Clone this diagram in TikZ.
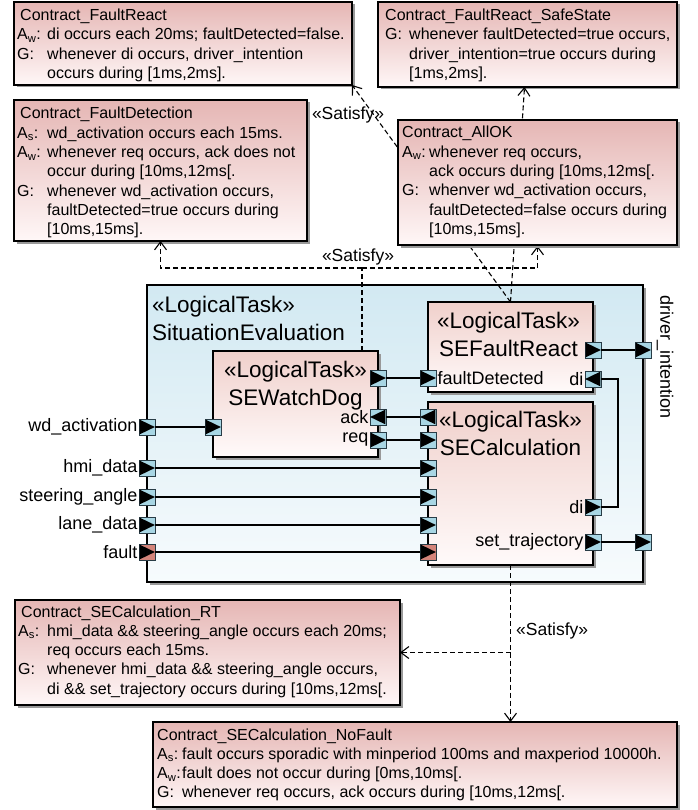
\documentclass[tikz,border=0pt]{standalone}
\usepackage{fontspec}
\setmainfont{Liberation Sans}
\usetikzlibrary{arrows.meta,shadows,calc}
\definecolor{cTop}{RGB}{229,182,180}
\definecolor{cBot}{RGB}{255,247,247}
\definecolor{tTop}{RGB}{240,208,203}
\definecolor{tBot}{RGB}{255,250,250}
\definecolor{sTop}{RGB}{210,233,242}
\definecolor{sBot}{RGB}{247,251,253}
\definecolor{portblue}{RGB}{168,214,228}
\definecolor{portred}{RGB}{212,132,122}
\definecolor{portedge}{RGB}{40,60,70}
\newcommand{\cpre}[2][30pt]{\makebox[#1][l]{#2}}
\newcommand{\prR}[3][portblue]{%
  \node[port, fill=#1] (#2) at (#3) {};
  \fill ([shift={(1pt,-1pt)}]#2.north west) -- ([xshift=-0.5pt]#2.east) -- ([shift={(1pt,1pt)}]#2.south west) -- cycle;}
\newcommand{\prL}[2]{%
  \node[port] (#1) at (#2) {};
  \fill ([shift={(-1pt,-1pt)}]#1.north east) -- ([xshift=0.5pt]#1.west) -- ([shift={(-1pt,1pt)}]#1.south east) -- cycle;}
\tikzset{
  bx/.style={draw=black, line width=1.1pt, inner sep=0pt, outer sep=0pt, anchor=north west,
    drop shadow={shadow xshift=2.5pt, shadow yshift=-2.5pt, fill=black!40, opacity=1}},
  contract/.style={bx, top color=cTop, bottom color=cBot},
  task/.style={bx, top color=tTop, bottom color=tBot},
  sebox/.style={bx, top color=sTop, bottom color=sBot},
  ctext/.style={inner sep=0pt, anchor=base west, font=\fontsize{16}{19.3}\selectfont},
  ttl/.style={inner sep=0pt, align=center, font=\fontsize{22.5}{28}\selectfont},
  plabel/.style={inner sep=1pt, font=\fontsize{18}{20}\selectfont},
  slabel/.style={inner sep=0pt, font=\fontsize{17.5}{20}\selectfont},
  port/.style={draw=portedge, fill=portblue, minimum size=16pt, inner sep=0pt, line width=0.7pt},
  conn/.style={draw=black, line width=1.2pt},
  satl/.style={draw=black, line width=1.1pt, dash pattern=on 5pt off 3pt},
  sat/.style={satl, -{Straight Barb[length=8pt,width=12pt]}},
}
\begin{document}
\begin{tikzpicture}[x=1pt,y=-1pt]
\useasboundingbox (0,0) rectangle (697,810);
\fill[white] (0,0) rectangle (697,810);

% main block and inner tasks
\node[sebox, minimum width=496pt, minimum height=297pt] (se) at (147,285) {};
\node[task, minimum width=165pt, minimum height=106pt] (wd) at (213,351) {};
\node[task, minimum width=165pt, minimum height=90pt] (frx) at (428,302) {};
\node[task, minimum width=165pt, minimum height=163pt] (sc) at (428,402) {};

\node[ttl, align=left, anchor=north west] (set) at (152,296) {«LogicalTask»\\SituationEvaluation};
\node[ttl, anchor=north] (wdt) at (295.5,361) {«LogicalTask»\\SEWatchDog};
\node[ttl, anchor=north] (frxt) at (508.5,312) {«LogicalTask»\\SEFaultReact};
\node[ttl, anchor=north] (sct) at (510.5,411) {«LogicalTask»\\SECalculation};

% connector turn point
\coordinate (diturn) at (618,0);

% ports
\prR{pw}{147,427}
\prR{ph}{147,468}
\prR{ps}{147,497}
\prR{pl}{147,525}
\prR[portred]{pf}{147,552}
\prR{wdin}{213,427}
\prR{wdout}{378,378}
\prL{wdack}{378,417}
\prR{wdreq}{378,440}
\prR{frin}{428,378}
\prR{frout}{593,350}
\prL{frdi}{593,379}
\prL{scack}{428,417}
\prR{screq}{428,440}
\prR{sch}{428,468}
\prR{scs}{428,497}
\prR{scl}{428,525}
\prR[portred]{scf}{428,552}
\prR{scdi}{593,507}
\prR{scst}{593,542}
\prR{sedrv}{643,350}
\prR{sest}{643,542}

% solid connections between ports
\draw[conn] (pw) -- (wdin);
\draw[conn] (ph) -- (sch);
\draw[conn] (ps) -- (scs);
\draw[conn] (pl) -- (scl);
\draw[conn] (pf) -- (scf);
\draw[conn] (wdout) -- (frin);
\draw[conn] (scack) -- (wdack);
\draw[conn] (wdreq) -- (screq);
\draw[conn] (frout) -- (sedrv);
\draw[conn] (scst) -- (sest);
\draw[conn] (scdi) -- (scdi -| diturn) |- (frdi);

% port labels
\node[plabel, anchor=east] (lwd) at (pw.west) {wd\_activation};
\node[plabel, anchor=east] (lhmi) at (ph.west) {hmi\_data};
\node[plabel, anchor=east] (lst) at (ps.west) {steering\_angle};
\node[plabel, anchor=east] (lln) at (pl.west) {lane\_data};
\node[plabel, anchor=east] (lfa) at (pf.west) {fault};
\node[plabel, anchor=east] (lack) at (wdack.west) {ack};
\node[plabel, anchor=east] (lreq) at (wdreq.west) {req};
\node[plabel, anchor=west] (lfd) at (frin.east) {faultDetected};
\node[plabel, anchor=east] (ldi1) at (frdi.west) {di};
\node[plabel, anchor=east] (ldi2) at (scdi.west) {di};
\node[plabel, anchor=east] (lset) at (scst.west) {set\_trajectory};
\node[plabel, rotate=-90] (ldrv) at (665,357) {driver\_intention};

% contract boxes
\node[contract, minimum width=338pt, minimum height=83pt] (fr) at (14,2) {};
\node[contract, minimum width=299pt, minimum height=85pt] (frs) at (378,2) {};
\node[contract, minimum width=293pt, minimum height=141pt] (fd) at (14,100) {};
\node[contract, minimum width=385pt, minimum height=105pt] (rt) at (15,600) {};
\node[contract, minimum width=524pt, minimum height=85pt] (nf) at (153,722) {};

% satisfy connectors (behind AllOK box)
\coordinate (j1) at (362,268);
\coordinate (okin) at (537.5,246);
\draw[satl] (wd.north -| j1) -- (j1);
\draw[sat] (j1) -| (fd.south);
\draw[sat] (j1) -| (okin);
\draw[sat] (frx.north) -- (fr.south east);
\draw[sat] (frx.north) -- ([xshift=-3pt]frs.south);
\coordinate (j2) at (sc.south |- rt.east);
\draw[satl] (sc.south) -- (j2);
\draw[sat] (j2) -- (j2 |- nf.north);
\draw[sat] (j2) -- (rt.east);

\node[contract, minimum width=279pt, minimum height=125pt] (ok) at (398,120) {};

% contract texts
\node[ctext] (frt) at (17,20.5) {\begin{tabular}[t]{@{}l@{}l@{}}
\multicolumn{2}{@{}l@{}}{\hspace*{3pt}Contract\_FaultReact}\\
\cpre{A\textsubscript{w}:} & di occurs each 20ms; faultDetected=false.\\
\cpre{G:} & whenever di occurs, driver\_intention\\
 & occurs during [1ms,2ms].\end{tabular}};

\node[ctext] (frst) at (385,20.5) {\begin{tabular}[t]{@{}l@{}l@{}}
\multicolumn{2}{@{}l@{}}{Contract\_FaultReact\_SafeState}\\
\cpre[24pt]{G:} & whenever faultDetected=true occurs,\\
 & driver\_intention=true occurs during\\
 & [1ms,2ms].\end{tabular}};

\node[ctext] (fdt) at (17,119) {\begin{tabular}[t]{@{}l@{}l@{}}
\multicolumn{2}{@{}l@{}}{\hspace*{3pt}Contract\_FaultDetection}\\
\cpre{A\textsubscript{s}:} & wd\_activation occurs each 15ms.\\
\cpre{A\textsubscript{w}:} & whenever req occurs, ack does not\\
 & occur during [10ms,12ms[.\\
\cpre{G:} & whenever wd\_activation occurs,\\
 & faultDetected=true occurs during\\
 & [10ms,15ms].\end{tabular}};

\node[ctext] (okt) at (402,138) {\begin{tabular}[t]{@{}l@{}l@{}}
\multicolumn{2}{@{}l@{}}{Contract\_AllOK}\\
\cpre[27pt]{A\textsubscript{w}:} & whenever req occurs,\\
 & ack occurs during [10ms,12ms[.\\
\cpre[27pt]{G:} & whenver wd\_activation occurs,\\
 & faultDetected=false occurs during\\
 & [10ms,15ms].\end{tabular}};

\node[ctext] (rtt) at (18,617) {\begin{tabular}[t]{@{}l@{}l@{}}
\multicolumn{2}{@{}l@{}}{\hspace*{3pt}Contract\_SECalculation\_RT}\\
\cpre[29pt]{A\textsubscript{s}:} & hmi\_data \&\& steering\_angle occurs each 20ms;\\
 & req occurs each 15ms.\\
\cpre[29pt]{G:} & whenever hmi\_data \&\& steering\_angle occurs,\\
 & di \&\& set\_trajectory occurs during [10ms,12ms[.\end{tabular}};

\node[ctext] (nft) at (157,740) {\begin{tabular}[t]{@{}l@{}l@{}}
\multicolumn{2}{@{}l@{}}{Contract\_SECalculation\_NoFault}\\
\cpre[25pt]{A\textsubscript{s}:} & fault occurs sporadic with minperiod 100ms and maxperiod 10000h.\\
\cpre[25pt]{A\textsubscript{w}:} & fault does not occur during [0ms,10ms[.\\
\cpre[25pt]{G:} & whenever req occurs, ack occurs during [10ms,12ms[.\end{tabular}};

% satisfy labels
\node[slabel] (s1) at (358,257) {«Satisfy»};
\node[slabel] (s2) at (348,115) {«Satisfy»};
\node[slabel, anchor=west] (s3) at (516,631) {«Satisfy»};
\end{tikzpicture}
\end{document}
